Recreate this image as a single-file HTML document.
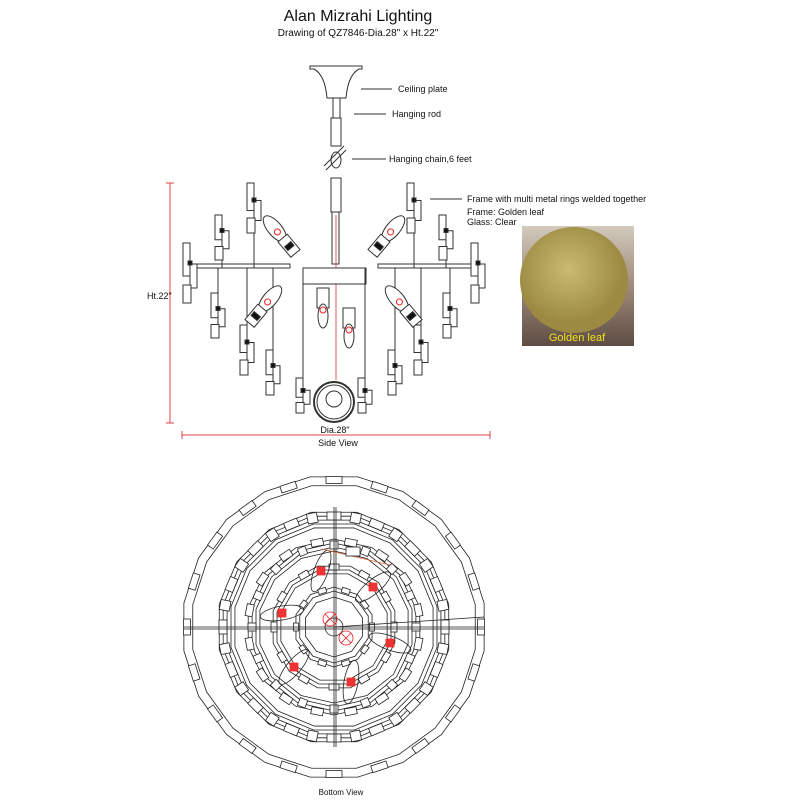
<!DOCTYPE html>
<html><head><meta charset="utf-8"><style>
body{margin:0;background:#fff;width:800px;height:800px;overflow:hidden;font-family:"Liberation Sans",sans-serif}
svg{position:absolute;left:0;top:0}
</style></head><body>
<svg id="s" width="800" height="800" viewBox="0 0 800 800" xmlns="http://www.w3.org/2000/svg" font-family="Liberation Sans, sans-serif">
<text x="358" y="21" font-size="16" text-anchor="middle" fill="#111">Alan Mizrahi Lighting</text>
<text x="358" y="36" font-size="10" text-anchor="middle" fill="#111">Drawing of QZ7846-Dia.28" x Ht.22"</text>
<g stroke="#333" fill="none" stroke-width="1">
<path d="M310 66 H362 V69 H359 Q348 75 346 98 H327 Q325 75 314 69 H310 Z" fill="#fff"/>
<rect x="333" y="98" width="7" height="20"/>
<rect x="331" y="118" width="10" height="28"/>
<path d="M326 170 L346 150 M324 166 L344 146"/>
<ellipse cx="336" cy="160" rx="5" ry="8"/>
<rect x="331" y="178" width="10" height="34"/>
<rect x="332" y="212" width="7" height="52"/>
<line x1="361" y1="89" x2="392" y2="89"/><line x1="354" y1="114" x2="386" y2="114"/>
<line x1="352" y1="159" x2="386" y2="159"/><line x1="430" y1="199" x2="462" y2="199"/>
</g>
<line x1="336" y1="215" x2="336" y2="380" stroke="#d33" stroke-width="0.8"/>
<g font-size="9" fill="#111">
<text x="398" y="92">Ceiling plate</text><text x="392" y="117">Hanging rod</text>
<text x="389" y="162">Hanging chain,6 feet</text>
<text x="467" y="202">Frame with multi metal rings welded together</text>
<text x="467" y="215">Frame: Golden leaf</text><text x="467" y="225">Glass: Clear</text>
<text x="147" y="299">Ht.22"</text><text x="335" y="433" text-anchor="middle">Dia.28"</text>
<text x="338" y="446" text-anchor="middle">Side View</text>
<text x="341" y="795" text-anchor="middle" font-size="8">Bottom View</text>
</g>
<g stroke="#d44" stroke-width="1">
<line x1="170" y1="183" x2="170" y2="423"/><line x1="166" y1="183" x2="174" y2="183"/><line x1="166" y1="423" x2="174" y2="423"/>
<line x1="182" y1="435" x2="490" y2="435"/><line x1="182" y1="431" x2="182" y2="439"/><line x1="490" y1="431" x2="490" y2="439"/>
</g>
<g id="side" stroke="#333" fill="#fff" stroke-width="1"></g>
<circle cx="334" cy="402" r="20" fill="none" stroke="#333" stroke-width="2"/>
<circle cx="334" cy="402" r="17" fill="none" stroke="#333"/>
<circle cx="334" cy="399" r="8" fill="none" stroke="#333"/>
<g id="bot" stroke="#222" fill="none" stroke-width="0.8"></g>
<defs><radialGradient id="g" cx="45%" cy="40%"><stop offset="0" stop-color="#c9bb72"/><stop offset="1" stop-color="#9c8a42"/></radialGradient>
<linearGradient id="bg" x1="0" y1="0" x2="0" y2="1"><stop offset="0" stop-color="#d2cabd"/><stop offset="0.5" stop-color="#a08a7a"/><stop offset="1" stop-color="#5e4d44"/></linearGradient></defs>
<rect x="522" y="226" width="112" height="120" fill="url(#bg)"/>
<ellipse cx="574" cy="280" rx="54" ry="53" fill="url(#g)"/>
<text x="577" y="341" font-size="11" fill="#f2e31a" text-anchor="middle">Golden leaf</text>
</svg>
<script>
var NS="http://www.w3.org/2000/svg";
function el(p,t,a){var e=document.createElementNS(NS,t);for(var k in a)e.setAttribute(k,a[k]);p.appendChild(e);return e;}
var side=document.getElementById('side');
el(side,'rect',{x:190,y:264,width:100,height:4});el(side,'rect',{x:378,y:264,width:100,height:4});
el(side,'rect',{x:303,y:268,width:63,height:16});
var P=[[247,183,50],[215,215,45],[183,243,60],[211,293,45],[240,325,50],[266,350,45],[296,378,35]];
P.forEach(function(p){[p,[668-p[0]-14,p[1],p[2]]].forEach(function(q){
 var x=q[0],y=q[1],h=q[2];
 el(side,'line',{x1:x+7,y1:268,x2:x+7,y2:y});
 el(side,'rect',{x:x,y:y,width:7,height:h*0.55});
 el(side,'rect',{x:x+7,y:y+h*0.35,width:7,height:h*0.4});
 el(side,'rect',{x:x,y:y+h*0.7,width:8,height:h*0.3});
 el(side,'rect',{x:x+5,y:y+h*0.3,width:4,height:4,fill:'#111'});
});});
[[280,235,-40],[388,235,40],[265,305,40],[402,305,-40]].forEach(function(b){
 var g=el(side,'g',{transform:'translate('+b[0]+','+b[1]+') rotate('+b[2]+')'});
 el(g,'ellipse',{cx:0,cy:-8,rx:7,ry:16});el(g,'rect',{x:-6,y:4,width:12,height:20});
 el(g,'rect',{x:-4,y:12,width:8,height:5,fill:'#111'});
 el(g,'circle',{cx:0,cy:-4,r:3,stroke:'#e22'});
});
[[323,310],[349,330]].forEach(function(b){el(side,'rect',{x:b[0]-6,y:b[1]-22,width:12,height:20});
 el(side,'ellipse',{cx:b[0],cy:b[1]+6,rx:5,ry:12});el(side,'circle',{cx:b[0],cy:b[1],r:3,stroke:'#e22'});});
var bot=document.getElementById('bot'),cx=334,cy=627;
function poly(r,n,off){var s='';for(var i=0;i<n;i++){var a=(i+off)/n*2*Math.PI;s+=(cx+r*Math.cos(a))+','+(cy+r*Math.sin(a))+' ';}el(bot,'polygon',{points:s});}
function tabs(r,n,w,h,off){for(var i=0;i<n;i++){var a=(i+off)/n*360;el(bot,'rect',{x:-w/2,y:-h/2,width:w,height:h,fill:'#fff',transform:'translate('+cx+','+cy+') rotate('+a+') translate('+r+',0) rotate(90)'});}}
poly(152,20,0.5);poly(143,20,0.5);tabs(147,20,16,7,0);
[[117,16],[113,16],[109,16],[105,16],[101,16],[88,14],[84,14],[80,14],[76,14],[63,12],[59,12],[55,12],[40,10],[36,10],[30,10]].forEach(function(r){poly(r[0],r[1],0.5);});
tabs(111,16,14,8,0);tabs(111,16,10,10,0.5);tabs(86,16,12,7,0.5);tabs(82,16,8,8,0);tabs(60,12,10,6,0);tabs(38,10,8,5,0);
el(bot,'line',{x1:cx-150,y1:cy,x2:cx+150,y2:cy});el(bot,'line',{x1:cx,y1:cy-120,x2:cx,y2:cy+120});
el(bot,'line',{x1:cx-150,y1:cy+2,x2:cx+150,y2:cy+2});el(bot,'line',{x1:cx+2,y1:cy-120,x2:cx+2,y2:cy+120});
el(bot,'line',{x1:cx,y1:cy,x2:cx+150,y2:cy-10});
el(bot,'circle',{cx:cx,cy:cy,r:9});
[[cx-4,cy-8],[cx+12,cy+11]].forEach(function(p){el(bot,'circle',{cx:p[0],cy:p[1],r:7,stroke:'#e22'});
 el(bot,'path',{d:'M'+(p[0]-5)+' '+(p[1]-5)+'L'+(p[0]+5)+' '+(p[1]+5)+'M'+(p[0]+5)+' '+(p[1]-5)+'L'+(p[0]-5)+' '+(p[1]+5),stroke:'#e22'});});
[[321,571,-70],[373,587,-40],[282,613,-10],[390,643,20],[294,667,130],[351,682,100]].forEach(function(p){
 el(bot,'ellipse',{cx:0,cy:0,rx:22,ry:7,transform:'translate('+p[0]+','+p[1]+') rotate('+p[2]+')'});
 el(bot,'rect',{x:p[0]-4,y:p[1]-4,width:8,height:8,fill:'#e33',stroke:'#e33'});});
el(bot,'line',{x1:322,y1:549,x2:390,y2:565,stroke:'#d63'});
el(bot,'rect',{x:346,y:547,width:14,height:9,fill:'#fff'});
</script>
</body></html>
